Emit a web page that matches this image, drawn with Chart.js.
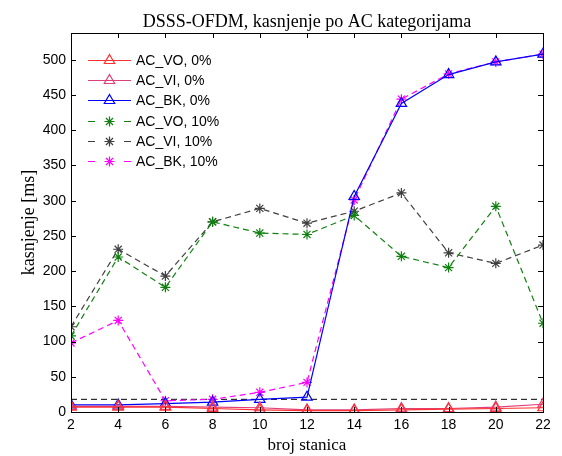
<!DOCTYPE html>
<html>
<head>
<meta charset="utf-8">
<script src="https://cdn.jsdelivr.net/npm/chart.js@4"></script>
<style>
  html, body { margin: 0; padding: 0; background: #fff; }
  #wrap { width: 562px; height: 456px; }
</style>
</head>
<body>
<div id="wrap"><canvas id="c"></canvas></div>
<script>
const stations = [2, 4, 6, 8, 10, 12, 14, 16, 18, 20, 22]

const acVo0 = [7, 7, 7, 5, 3, 2, 2, 3, 4, 5, 6]
const acVi0 = [8, 8, 8, 7, 6, 3, 3, 5, 5, 7, 11]
const acBk0 = [10, 10, 12, 14, 18, 21, 306, 438, 479, 497, 508]
const acVo10 = [108, 220, 177, 270, 254, 252, 279, 221, 205, 292, 126]
const acVi10 = [121, 231, 193, 270, 289, 268, 285, 311, 226, 211, 237]
const acBk10 = [98, 130, 16, 18, 28, 42, 301, 444, 480, 497, 508]
const refLine = [18, 18, 18, 18, 18, 18, 18, 18, 18, 18, 18]

const yTicks = [0, 50, 100, 150, 200, 250, 300, 350, 400, 450, 500]

const series = [
  { label: 'AC_VO, 0%', data: acVo0, color: '#ff3030', dash: [], style: 'triangle', r: 6 },
  { label: 'AC_VI, 0%', data: acVi0, color: '#e0407a', dash: [], style: 'triangle', r: 6 },
  { label: 'AC_BK, 0%', data: acBk0, color: '#0000ff', dash: [], style: 'triangle', r: 6 },
  { label: 'AC_VO, 10%', data: acVo10, color: '#108010', dash: [6, 4], style: 'star', r: 5 },
  { label: 'AC_VI, 10%', data: acVi10, color: '#404040', dash: [6, 4], style: 'star', r: 5 },
  { label: 'AC_BK, 10%', data: acBk10, color: '#ff00ff', dash: [6, 4], style: 'star', r: 5 }
]

const datasets = series.map(s => ({
  label: s.label,
  data: s.data.map((v, i) => ({ x: stations[i], y: v })),
  borderColor: s.color,
  backgroundColor: 'rgba(0,0,0,0)',
  pointBorderColor: s.color,
  pointBackgroundColor: 'rgba(0,0,0,0)',
  borderWidth: 1.2,
  borderDash: s.dash,
  pointStyle: s.style,
  pointRadius: s.r,
  pointBorderWidth: 1.2,
  tension: 0,
  fill: false
}))

datasets.push({
  label: 'ref',
  data: refLine.map((v, i) => ({ x: stations[i], y: v })),
  borderColor: '#000',
  borderWidth: 1,
  borderDash: [6, 4],
  pointRadius: 0,
  fill: false
})

// MATLAB-ish frame, inward ticks, title and legend inside the plot
const matlabFrame = {
  id: 'matlabFrame',
  afterDraw(chart) {
    const { ctx, chartArea: a, scales } = chart
    ctx.save()
    ctx.strokeStyle = '#000'
    ctx.lineWidth = 1
    ctx.strokeRect(a.left + 0.5, a.top + 0.5, a.right - a.left, a.bottom - a.top)
    ctx.beginPath()
    stations.forEach(v => {
      const x = Math.round(scales.x.getPixelForValue(v)) + 0.5
      ctx.moveTo(x, a.bottom); ctx.lineTo(x, a.bottom - 5)
      ctx.moveTo(x, a.top); ctx.lineTo(x, a.top + 5)
    })
    yTicks.forEach(v => {
      const y = Math.round(scales.y.getPixelForValue(v)) + 0.5
      ctx.moveTo(a.left, y); ctx.lineTo(a.left + 5, y)
      ctx.moveTo(a.right, y); ctx.lineTo(a.right - 5, y)
    })
    ctx.stroke()

    ctx.fillStyle = '#000'
    ctx.font = '18px "Liberation Serif", "Times New Roman", serif'
    ctx.textAlign = 'center'
    ctx.textBaseline = 'middle'
    ctx.fillText('DSSS-OFDM, kasnjenje po AC kategorijama', (a.left + a.right) / 2, 22)

    // legend
    ctx.font = '14px "Liberation Sans", Arial, sans-serif'
    ctx.textAlign = 'left'
    series.forEach((s, i) => {
      const y = Math.round(60 + i * 20.2) + 0.5
      ctx.strokeStyle = s.color
      ctx.lineWidth = 1.2
      ctx.beginPath()
      if (s.dash.length) {
        ctx.moveTo(88, y); ctx.lineTo(95, y)
        ctx.moveTo(124, y); ctx.lineTo(131, y)
      } else {
        ctx.moveTo(88, y); ctx.lineTo(131, y)
      }
      ctx.stroke()
      ctx.fillStyle = 'rgba(0,0,0,0)'
      Chart.helpers.drawPoint(ctx, { pointStyle: s.style, radius: s.r, rotation: 0, borderWidth: 1.2 }, 109.5, y)
      ctx.fillStyle = '#000'
      ctx.fillText(s.label, 136, y + 1)
    })
    ctx.restore()
  }
}

new Chart(document.getElementById('c'), {
  type: 'line',
  data: { datasets },
  options: {
    responsive: true,
    maintainAspectRatio: false,
    animation: false,
    layout: { padding: { top: 33, right: 19, bottom: 0, left: 0 } },
    plugins: {
      legend: { display: false },
      title: { display: false },
      tooltip: { enabled: false }
    },
    scales: {
      x: {
        type: 'linear',
        min: 2,
        max: 22,
        afterBuildTicks: s => { s.ticks = stations.map(v => ({ value: v })) },
        afterFit: s => { s.height = 44 },
        grid: { display: false, drawTicks: false },
        border: { display: false },
        ticks: {
          color: '#000',
          padding: 5,
          maxRotation: 0,
          font: { family: '"Liberation Sans", Arial, sans-serif', size: 14 }
        },
        title: {
          display: true,
          text: 'broj stanica',
          color: '#000',
          padding: { top: 0, bottom: 0 },
          font: { family: '"Liberation Serif", "Times New Roman", serif', size: 17 }
        }
      },
      y: {
        type: 'linear',
        min: 0,
        max: 538,
        afterBuildTicks: s => { s.ticks = yTicks.map(v => ({ value: v })) },
        afterFit: s => { s.width = 71 },
        grid: { display: false, drawTicks: false },
        border: { display: false },
        ticks: {
          color: '#000',
          padding: 5,
          font: { family: '"Liberation Sans", Arial, sans-serif', size: 14 }
        },
        title: {
          display: true,
          text: 'kasnjenje [ms]',
          color: '#000',
          padding: { top: 18, bottom: 4 },
          font: { family: '"Liberation Serif", "Times New Roman", serif', size: 18 }
        }
      }
    }
  },
  plugins: [matlabFrame]
})
</script>
</body>
</html>
